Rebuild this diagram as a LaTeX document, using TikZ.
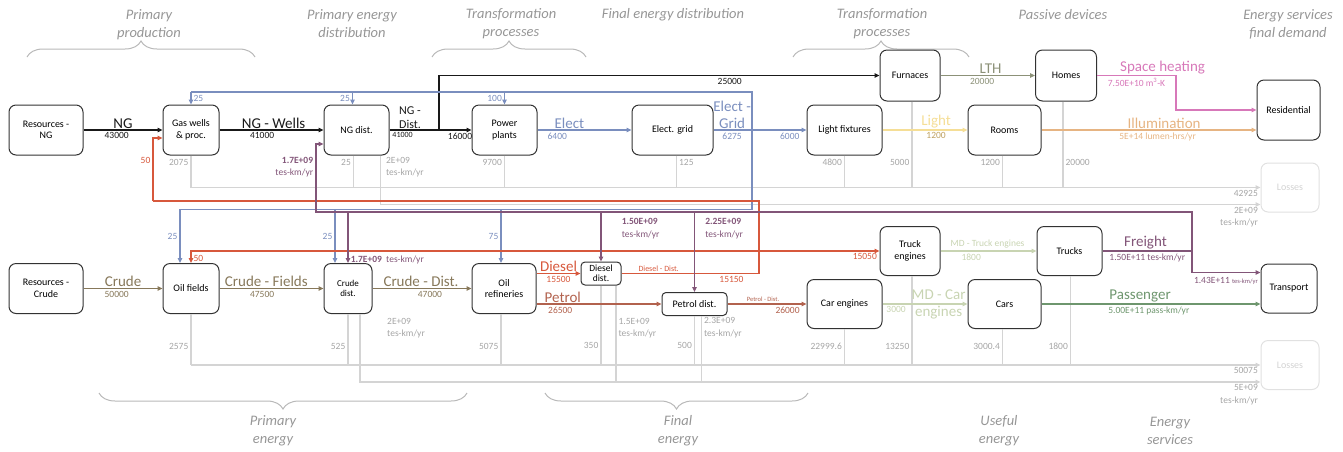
\documentclass[tikz,border=0pt]{standalone}
\usepackage{fontspec}
\setmainfont{Carlito}
\usetikzlibrary{arrows.meta,decorations.pathreplacing}

\begin{document}
\begin{tikzpicture}[x=1pt,y=-1pt,
% Styles
box/.style={draw=boxline,line width=1pt,rounded corners=7pt,align=center,inner sep=1pt,font=\fontsize{10}{11.5}\selectfont},
ghost/.style={box,draw=ghostline,text=ghosttext},
big/.style={font=\fontsize{15}{17}\selectfont,inner sep=1pt},
num/.style={font=\fontsize{9.5}{12.5}\selectfont,inner sep=2pt},
small/.style={font=\fontsize{8}{9}\selectfont,inner sep=1.5pt},
wee/.style={font=\fontsize{6.5}{7.5}\selectfont,inner sep=1.5pt},
lossnum/.style={num,text=losstext},
head/.style={font=\fontsize{14.5}{18}\selectfont\itshape,text=headtext,align=center},
brace/.style={draw=braceline,line width=1pt,decorate,decoration={brace,amplitude=16pt}},
ng/.style={color=ngcolor,line width=1.6pt},
elec/.style={color=eleccolor,line width=1.3pt},
crude/.style={color=crudecolor,line width=1.3pt},
diesel/.style={color=dieselcolor,line width=1.3pt},
petrol/.style={color=petrolcolor,line width=1.3pt},
freight/.style={color=freightcolor,line width=1.5pt},
lth/.style={color=lthcolor,line width=1.3pt},
lightc/.style={color=lightcolor,line width=1.3pt},
heat/.style={color=heatcolor,line width=1.3pt},
illum/.style={color=illumcolor,line width=1.3pt},
md/.style={color=mdcolor,line width=1.3pt},
pass/.style={color=passcolor,line width=1.3pt},
loss/.style={color=lossline,line width=1.3pt},
>={Triangle[length=5pt,width=4.5pt]}]
% Colors
\definecolor{boxline}{RGB}{50,50,50}
\definecolor{ghostline}{RGB}{225,225,225}
\definecolor{ghosttext}{RGB}{210,210,210}
\definecolor{lossline}{RGB}{212,212,212}
\definecolor{losstext}{RGB}{165,165,165}
\definecolor{headtext}{RGB}{150,150,150}
\definecolor{braceline}{RGB}{185,185,185}
\definecolor{ngcolor}{RGB}{25,25,25}
\definecolor{eleccolor}{RGB}{122,142,190}
\definecolor{crudecolor}{RGB}{135,120,90}
\definecolor{dieselcolor}{RGB}{215,88,60}
\definecolor{petrolcolor}{RGB}{178,98,78}
\definecolor{freightcolor}{RGB}{130,85,120}
\definecolor{lthcolor}{RGB}{140,145,120}
\definecolor{lightcolor}{RGB}{245,222,150}
\definecolor{lightnum}{RGB}{190,160,95}
\definecolor{heatcolor}{RGB}{215,120,185}
\definecolor{illumcolor}{RGB}{230,180,130}
\definecolor{mdcolor}{RGB}{200,212,178}
\definecolor{passcolor}{RGB}{110,150,110}
\useasboundingbox (0,0) rectangle (1343,451);

% Headings and braces
\node[head] (hpp) at (149,25) {Primary\\production};
\node[head] (hped) at (352,24) {Primary energy\\distribution};
\node[head] (htp1) at (511,24) {Transformation\\processes};
\node[head] (hfed) at (673,15) {Final energy distribution};
\node[head] (htp2) at (882,24) {Transformation\\processes};
\node[head] (hpd) at (1063,15) {Passive devices};
\node[head] (hes) at (1288,24) {Energy services\\final demand};
\node[head] (hpe) at (273,431) {Primary\\energy};
\node[head] (hfe) at (678,431) {Final\\energy};
\node[head] (hue) at (999,431) {Useful\\energy};
\node[head] (hsv) at (1170,431) {Energy\\services};
\draw[brace] (27,57) -- (255,57);
\draw[brace] (432,57) -- (586,57);
\draw[brace] (793,57) -- (969,57);
\draw[brace] (467,393) -- (99,393);
\draw[brace] (808,393) -- (545,393);

% Top row
\node[box,minimum width=74,minimum height=50] (resng) at (46,130) {Resources -\\NG};
\node[box,minimum width=56,minimum height=50] (gaswells) at (191,130) {Gas wells\\\& proc.};
\node[box,minimum width=65,minimum height=50] (ngdist) at (356.5,130) {NG dist.};
\node[box,minimum width=65,minimum height=50] (power) at (504.5,130) {Power\\plants};
\node[box,minimum width=81,minimum height=50] (grid) at (672.5,130) {Elect. grid};
\node[box,minimum width=75,minimum height=50] (lightfix) at (844.5,130) {Light fixtures};
\node[box,minimum width=60,minimum height=51] (furn) at (910,75.5) {Furnaces};
\node[box,minimum width=73,minimum height=50] (rooms) at (1004.5,130) {Rooms};
\node[box,minimum width=61,minimum height=51] (homes) at (1066,75.5) {Homes};
\node[box,minimum width=63,minimum height=60] (resid) at (1288.5,110) {Residential};
\node[ghost,minimum width=58,minimum height=49] (lossA) at (1290,187.5) {Losses};
% Bottom row
\node[box,minimum width=74,minimum height=50] (rescr) at (46,288.5) {Resources -\\Crude};
\node[box,minimum width=56,minimum height=50] (oilf) at (191,288.5) {Oil fields};
\node[box,minimum width=48,minimum height=50,font=\fontsize{9}{10.5}\selectfont] (crudist) at (348,288.5) {Crude\\dist.};
\node[box,minimum width=64,minimum height=50] (refin) at (504,288.5) {Oil\\refineries};
\node[box,minimum width=40,minimum height=23,rounded corners=4pt,inner sep=0pt,font=\fontsize{9.5}{10}\selectfont] (dieseld) at (601,273.5) {Diesel\\dist.};
\node[box,minimum width=65,minimum height=23,rounded corners=4pt] (petrold) at (694.5,304) {Petrol dist.};
\node[box,minimum width=75,minimum height=49] (careng) at (844.5,304) {Car engines};
\node[box,minimum width=60,minimum height=49] (trucke) at (910,251) {Truck\\engines};
\node[box,minimum width=73,minimum height=49] (cars) at (1004.5,304) {Cars};
\node[box,minimum width=65,minimum height=49] (trucks) at (1069.5,251) {Trucks};
\node[box,minimum width=56,minimum height=49] (transp) at (1289,288.5) {Transport};
\node[ghost,minimum width=58,minimum height=49] (lossB) at (1290,365) {Losses};

% Losses
\foreach \n/\dx/\v/\s/\p in {gaswells/0/2075/east/0.22, ngdist/-3/25/east/0.22, power/0/9700/east/0.22, grid/4/125/west/0.22, lightfix/0/4800/east/0.22, furn/2/5000/east/0.71, rooms/-2/1200/east/0.22, homes/-3/20000/west/0.71}
  \draw[loss] ([xshift=\dx]\n.south) -- node[pos=\p,anchor=\s,lossnum]{\v} ([xshift=\dx]\n.south |- lossA.west);
\draw[loss,->] (gaswells.south |- lossA.west) -- node[pos=1,below left,lossnum]{42925} (lossA.west);
\coordinate (la2) at ([yshift=-17]lossA.west);
\draw[loss,->] ([xshift=24]ngdist.south) |- node[pos=0.12,anchor=west,xshift=3,lossnum,align=left]{2E+09\\tes-km/yr} node[pos=1,below left,lossnum,align=right]{2E+09\\tes-km/yr} (la2);
\foreach \n/\dx/\v/\p in {oilf/0/2575/0.63, crudist/0/525/0.63, refin/-3/5075/0.63, dieseld/0/350/0.76, petrold/0/500/0.61, careng/0/22999.6/0.49, trucke/2/13250/0.79, cars/-2/3000.4/0.49, trucks/1/1800/0.79}
  \draw[loss] ([xshift=\dx]\n.south) -- node[pos=\p,anchor=east,lossnum]{\v} ([xshift=\dx]\n.south |- lossB.west);
\draw[loss,->] (oilf.south |- lossB.west) -- node[pos=1,below left,lossnum]{50075} (lossB.west);
\coordinate (lb2) at ([yshift=-17]lossB.west);
\draw[loss,->] ([xshift=12]crudist.south) |- node[pos=1,below left,lossnum,align=right]{5E+09\\tes-km/yr} (lb2);
\draw[loss] ([xshift=15]dieseld.south) -- node[pos=0.44,anchor=west,lossnum,align=left]{1.5E+09\\tes-km/yr} ([xshift=15]dieseld.south |- lb2);
\draw[loss] ([xshift=7]petrold.south) -- node[pos=0.18,anchor=west,lossnum,align=left]{2.3E+09\\tes-km/yr} ([xshift=7]petrold.south |- lb2);
\node[lossnum,align=left,anchor=west] (tkcrude) at (385,328) {2E+09\\tes-km/yr};

% Natural gas
\draw[ng,->] (resng) -- node[above,big]{NG} node[below,num,pos=0.42]{43000} (gaswells);
\draw[ng,->] (gaswells) -- node[above,big,pos=0.52]{NG - Wells} node[below,num,pos=0.41]{41000} (ngdist);
\draw[ng,->] (ngdist) -- node[above,pos=0.25,font=\fontsize{12}{14}\selectfont,inner sep=1pt,align=center]{NG -\\Dist.} node[below,small,pos=0.16]{41000} node[below,num,pos=0.86]{16000} (power);
\coordinate (ngb) at (439,130);
\draw[ng,->] (ngb) |- node[below,num,pos=0.83]{25000} (furn.west);

% Electricity
\draw[elec,->] (power) -- node[above,big,pos=0.34]{Elect} node[below,num,pos=0.21]{6400} (grid);
\draw[elec,->] (grid) -- node[above,big,pos=0.2,align=center]{Elect -\\Grid} node[below,num,pos=0.2]{6275} node[below,num,pos=0.82]{6000} (lightfix);
\coordinate (eup) at (752,92);
\coordinate (edn) at (752,209.5);
\coordinate (bo) at (180,209.5);
\draw[elec] (edn) -- (eup) -- (eup -| gaswells);
\draw[elec,->] (eup -| gaswells) -- node[right,num]{25} (gaswells.north);
\draw[elec,->] ([xshift=-4]ngdist.north |- eup) -- node[left,num]{25} ([xshift=-4]ngdist.north);
\draw[elec,->] (eup -| power) -- node[left,num]{100} (power.north);
\draw[elec,->] (edn) -| node[pos=0.75,left,num]{25} (bo |- oilf.north);
\draw[elec,->] ([xshift=-13]crudist.north |- edn) -- node[left,num]{25} ([xshift=-13]crudist.north);
\draw[elec,->] ([xshift=-3]refin.north |- edn) -- node[left,num]{75} ([xshift=-3]refin.north);

% Heat and light
\draw[lth,->] (furn) -- node[above,big,pos=0.53]{LTH} node[below,num,pos=0.44]{20000} (homes);
\draw[lightc,->] (lightfix) -- node[above,big,pos=0.63]{Light} node[below,num,pos=0.63,text=lightnum]{1200} (rooms);
\coordinate (hb) at (1176,75.5);
\draw[heat,->] (homes.east) -- node[above,big,pos=0.83]{Space heating} node[below,num,pos=0.5]{7.50E+10 m\textsuperscript{3}-K} (hb) |- (resid.west);
\draw[illum,->] (rooms) -- node[above,big,pos=0.57]{Illumination} node[below,num,pos=0.54]{5E+14 lumen-hrs/yr} (rooms -| resid.west);

% Crude oil
\draw[crude,->] (rescr) -- node[above,big]{Crude} node[below,num,pos=0.42]{50000} (oilf);
\draw[crude,->] (oilf) -- node[above,big,pos=0.45]{Crude - Fields} node[below,num,pos=0.41]{47500} (crudist);
\draw[crude,->] (crudist) -- node[above,big,pos=0.49]{Crude - Dist.} node[below,num,pos=0.58]{47000} (refin);

% Diesel
\draw[diesel,->] (refin.east |- dieseld) -- node[above,big]{Diesel} node[below,num]{15500} (dieseld);
\coordinate (dd1) at (759,273.5);
\coordinate (dd2) at (759,201);
\coordinate (dd3) at (153,201);
\coordinate (dj) at (759,251);
\draw[diesel] (dieseld) -- node[above,small,pos=0.27]{Diesel - Dist.} node[below,num,pos=0.8]{15150} (dd1) -- (dd2) -- (dd3);
\draw[diesel,->] (dd3) |- node[left,num,pos=0.32]{50} ([yshift=-8]gaswells.west);
\draw[diesel,->] (dj) -- node[below left,num,pos=1]{15050} (trucke);
\draw[diesel,->] (dj) -| node[right,num,pos=0.8]{50} (oilf.north);

% Petrol
\draw[petrol,->] (refin.east |- petrold) -- node[above,big,pos=0.21]{Petrol} node[below,num,pos=0.19]{26500} (petrold);
\draw[petrol,->] (petrold) -- node[above,wee,pos=0.45]{Petrol - Dist.} node[below,num,pos=0.76]{26000} (careng);

% Engines and vehicles
\draw[md,->] (careng) -- node[below,num,pos=0.16]{3000} node[big,pos=0.66,align=center]{MD - Car\\engines} (cars);
\draw[md,->] (trucke) -- node[above,num,pos=0.49]{MD - Truck engines} node[below,num,pos=0.32]{1800} (trucks);
\draw[pass,->] (cars) -- node[above,big,pos=0.45]{Passenger} node[below,num,pos=0.49]{5.00E+11 pass-km/yr} (cars -| transp.west);

% Freight
\coordinate (fr1) at (1192,251);
\coordinate (fr2) at (1192,212);
\coordinate (fr3) at (316,212);
\draw[freight,line width=2.2pt] (trucks) -- node[above,big,pos=0.48]{Freight} node[below,num,pos=0.5]{1.50E+11 tes-km/yr} (fr1);
\draw[freight,->] (fr1) |- node[below left,num,pos=1,yshift=-2]{1.43E+11 {\fontsize{6.5}{7}\selectfont tes-km/yr}} ([yshift=16]transp.west);
\draw[freight,line width=1.8pt,->] (fr1) -- (fr2) -- (fr3) |- node[left,num,pos=0.33,align=right]{\textbf{1.7E+09}\\tes-km/yr} ([yshift=-14]ngdist.west);
\draw[freight,->] (crudist.north |- fr2) -- node[right,num,pos=0.94]{\textbf{1.7E+09}\ \ tes-km/yr} (crudist.north);
\draw[freight,->] (dieseld.north |- fr2) -- node[right=18pt,num,pos=0.34,align=left]{\textbf{1.50E+09}\\tes-km/yr} (dieseld.north);
\draw[freight,->] (petrold.north |- fr2) -- node[right=8pt,num,pos=0.21,align=left]{\textbf{2.25E+09}\\tes-km/yr} (petrold.north);
\end{tikzpicture}
\end{document}
